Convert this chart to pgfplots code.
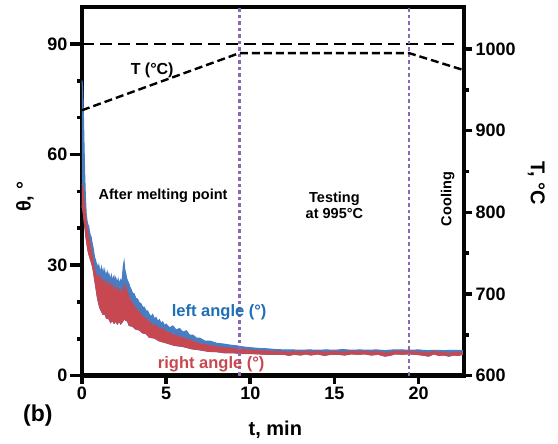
\documentclass[border=0pt]{standalone}
\usepackage{fontspec}
\setmainfont{Liberation Sans}
\usepackage{pgfplots}
\pgfplotsset{compat=1.18}
\definecolor{bl}{RGB}{72,125,195}
\definecolor{rd}{RGB}{200,72,82}
\definecolor{bltxt}{RGB}{30,110,185}
\definecolor{pur}{RGB}{135,105,180}
\definecolor{ink}{RGB}{5,5,5}
\begin{document}
\begin{tikzpicture}
\begin{axis}[
 at={(0,0)}, anchor=south west,
 scale only axis, width=382pt, height=368.7pt,
 xmin=0, xmax=22.7, ymin=0, ymax=100,
 axis line style={line width=4.5pt, draw=ink},
 xtick=\empty,
 ytick={0,30,60,90}, minor ytick={10,20,40,50,70,80},
 ytick pos=left, tick align=outside,
 major tick length=12pt, minor tick length=5pt,
 tick style={line width=3.6pt, draw=ink},
 yticklabel style={font=\bfseries\fontsize{18}{18}\selectfont, xshift=1pt},
 /pgf/number format/assume math mode=true,
 clip=false,
]
% blue band: left angle upper envelope, closed along the right-angle lower envelope
\addplot[fill=bl, draw=bl, line width=1pt] coordinates {
(0,80) (0.04,78) (0.08,72) (0.12,63) (0.16,55) (0.2,49) (0.25,44) (0.3,42) (0.35,41) (0.4,40.5)
(0.45,39) (0.5,38) (0.55,37.5) (0.6,36) (0.65,35) (0.7,33.5) (0.75,32) (0.8,31.5) (0.85,30.5) (0.9,30)
(0.95,29.0) (1.0,30.0) (1.05,28.6) (1.1,28.2) (1.15,29.4) (1.2,27.8) (1.25,28.8) (1.3,27.4) (1.35,28.6) (1.4,27.0)
(1.5,28.2) (1.55,26.6) (1.6,27.6) (1.7,26.0) (1.75,27.2) (1.8,25.8) (1.9,27.0) (1.95,25.4) (2.0,26.6) (2.1,25.2)
(2.15,26.2) (2.2,25.0) (2.3,26.0) (2.35,24.8) (2.4,26.8) (2.45,29.5) (2.5,31) (2.55,28.6) (2.6,27.8) (2.65,26.5)
(2.7,25.8) (2.8,24.8) (2.85,24.0) (2.9,23.6) (3.0,22.4) (3.1,22.2) (3.2,21.0) (3.3,20.8) (3.4,19.8) (3.5,19.6)
(3.6,18.6) (3.7,18.6) (3.8,17.6) (3.9,17.6) (4.0,16.6) (4.1,16.0) (4.2,16.6) (4.3,15.4) (4.4,15.8) (4.5,14.8)
(4.6,15.2) (4.7,14.2) (4.8,14.6) (4.9,13.6) (5.0,14.0) (5.2,13.0) (5.4,13.5) (5.6,12.4) (5.8,12.8) (6.0,11.8)
(6.2,12.2) (6.4,11.0) (6.6,11.0) (6.8,10.2) (7.0,10.2) (7.3,9.4) (7.6,9.4) (8.0,8.8) (8.4,8.6) (8.8,8.3)
(9.2,8.1) (9.6,7.8) (10,7.6) (10.5,7.4) (11,7.3) (11.5,7.1) (12,7.0) (12.5,7.0) (13,6.9) (13.5,7.0)
(14,6.9) (14.5,7.0) (15,6.9) (15.5,7.1) (16,6.9) (16.5,7.0) (17,6.9) (17.5,7.0) (18,6.8) (18.5,7.0)
(19,7.0) (19.5,6.9) (20,7.0) (20.5,6.8) (21,6.9) (21.5,6.8) (22,6.9) (22.6,6.9)
(22.6,5.8) (22.4,5.5) (22.1,5.6) (21.8,5.3) (21.5,5.6) (21.2,5.5) (20.9,5.9) (20.6,5.3) (20.2,5.6) (19.8,5.8)
(19.4,5.9) (19,5.8) (18.6,5.9) (18.3,5.5) (18,5.3) (17.6,5.8) (17.2,5.6) (16.8,5.9) (16.4,5.8) (16,5.9)
(15.6,5.6) (15.2,5.8) (14.8,5.8) (14.4,5.5) (14,5.9) (13.6,5.6) (13.3,5.9) (13,5.6) (12.6,5.8) (12.3,5.5)
(12,5.8) (11,5.8) (10,6.0) (9.5,6.0) (9.0,6.2) (8.5,6.2) (8.0,6.5) (7.5,6.6) (7.0,7.0) (6.5,7.3)
(6.0,7.9) (5.5,8.2) (5.0,8.9) (4.6,9.4) (4.3,10.2) (4.0,10.4) (3.8,11.4) (3.6,11.6) (3.4,12.4) (3.2,12.6)
(3.0,13.4) (2.8,13.6) (2.7,14.8) (2.6,15.0) (2.5,15.4) (2.4,14.6) (2.3,14.0) (2.2,14.8) (2.1,14.0) (2.0,14.8)
(1.9,14.2) (1.8,15.0) (1.7,14.4) (1.6,15.4) (1.45,15.6) (1.35,16.8) (1.25,16.6) (1.15,17.5) (1.05,18.5) (0.97,20)
(0.9,21.5) (0.82,24) (0.75,26) (0.67,28.5) (0.6,30) (0.5,31.5) (0.4,33) (0.35,34) (0.3,35.5) (0.25,37)
(0.2,39) (0.15,41) (0.1,43) (0.05,45) (0,46)};
% red band: right angle upper and lower envelopes
\addplot[fill=rd, draw=rd, line width=0.8pt] coordinates {
(0,52) (0.04,51.5) (0.08,50) (0.12,48) (0.16,46) (0.2,44) (0.25,42) (0.3,40) (0.35,39) (0.4,37.5)
(0.45,36.5) (0.5,35.5) (0.55,34) (0.6,33) (0.65,31.5) (0.7,30) (0.75,29) (0.8,28) (0.85,27.5) (0.9,26.6)
(0.95,27.2) (1.0,25.6) (1.05,26.8) (1.1,25.0) (1.15,26.4) (1.2,24.6) (1.3,26.0) (1.35,24.2) (1.4,25.6) (1.5,23.8)
(1.55,25.4) (1.6,23.4) (1.7,25.0) (1.75,23.0) (1.8,24.6) (1.9,22.6) (1.95,24.2) (2.0,22.4) (2.1,23.8) (2.15,22.0)
(2.2,23.4) (2.3,21.8) (2.35,23.2) (2.4,22.2) (2.5,24.6) (2.55,23.4) (2.6,24.2) (2.7,22.4) (2.8,21.4) (2.9,20.0)
(3.0,20.0) (3.1,18.6) (3.2,18.6) (3.3,17.4) (3.4,17.4) (3.5,16.4) (3.6,16.4) (3.7,15.4) (3.8,15.6) (3.9,14.6)
(4.0,14.8) (4.2,13.6) (4.4,13.8) (4.6,12.6) (4.8,12.8) (5.0,11.8) (5.2,11.8) (5.4,11.0) (5.6,11.0) (5.8,10.4)
(6.0,10.4) (6.2,9.8) (6.4,9.8) (6.6,9.2) (6.8,9.2) (7.0,8.6) (7.3,8.5) (7.6,8.1) (8.0,7.9) (8.4,7.6)
(8.8,7.5) (9.2,7.2) (9.6,7.1) (10,6.9) (10.5,6.8) (11,6.7) (11.5,6.6) (12,6.5) (12.3,6.3) (12.6,6.6)
(13,6.4) (13.3,6.7) (13.6,6.4) (14,6.7) (14.4,6.3) (14.8,6.6) (15.2,6.5) (15.6,6.4) (16,6.7) (16.4,6.5)
(16.8,6.7) (17.2,6.4) (17.6,6.6) (18,6.1) (18.3,6.3) (18.6,6.7) (19,6.5) (19.4,6.7) (19.8,6.5) (20.2,6.4)
(20.6,6.1) (20.9,6.7) (21.2,6.3) (21.5,6.4) (21.8,6.0) (22.1,6.4) (22.4,6.3) (22.6,6.5)
(22.6,5.8) (22.4,5.5) (22.1,5.6) (21.8,5.3) (21.5,5.6) (21.2,5.5) (20.9,5.9) (20.6,5.3) (20.2,5.6) (19.8,5.8)
(19.4,5.9) (19,5.8) (18.6,5.9) (18.3,5.5) (18,5.3) (17.6,5.8) (17.2,5.6) (16.8,5.9) (16.4,5.8) (16,5.9)
(15.6,5.6) (15.2,5.8) (14.8,5.8) (14.4,5.5) (14,5.9) (13.6,5.6) (13.3,5.9) (13,5.6) (12.6,5.8) (12.3,5.5)
(12,5.8) (11,5.8) (10,6.0) (9.5,6.0) (9.0,6.2) (8.5,6.2) (8.0,6.5) (7.5,6.6) (7.0,7.0) (6.5,7.3)
(6.0,7.9) (5.5,8.2) (5.0,8.9) (4.6,9.4) (4.3,10.2) (4.0,10.4) (3.8,11.4) (3.6,11.6) (3.4,12.4) (3.2,12.6)
(3.0,13.4) (2.8,13.6) (2.7,14.8) (2.6,15.0) (2.5,15.4) (2.4,14.6) (2.3,14.0) (2.2,14.8) (2.1,14.0) (2.0,14.8)
(1.9,14.2) (1.8,15.0) (1.7,14.4) (1.6,15.4) (1.45,15.6) (1.35,16.8) (1.25,16.6) (1.15,17.5) (1.05,18.5) (0.97,20)
(0.9,21.5) (0.82,24) (0.75,26) (0.67,28.5) (0.6,30) (0.5,31.5) (0.4,33) (0.35,34) (0.3,35.5) (0.25,37)
(0.2,39) (0.15,41) (0.1,43) (0.05,45) (0,46)};
% horizontal dashed line and vertical dotted lines
\addplot[black, line width=2.4pt, dash pattern=on 12pt off 6pt] coordinates {(0,90) (22.4,90)};
\addplot[pur, line width=2.2pt, dash pattern=on 3.5pt off 3pt] coordinates {(9.36,0) (9.36,100)};
\addplot[pur, line width=2.2pt, dash pattern=on 3.5pt off 3pt] coordinates {(19.43,0) (19.43,100)};
% annotations
\node[font=\bfseries\fontsize{16}{16}\selectfont] at (axis cs:4.17,82.9) {T (°C)};
\node[font=\bfseries\fontsize{14.5}{14.5}\selectfont] at (axis cs:4.82,48.7) {After melting point};
\node[font=\bfseries\fontsize{14.5}{16}\selectfont, align=center] at (axis cs:15.0,46.3) {Testing\\at 995°C};
\node[font=\bfseries\fontsize{14.5}{14.5}\selectfont, rotate=90] at (axis cs:21.73,47.9) {Cooling};
\node[text=bltxt, font=\bfseries\fontsize{16.5}{16.5}\selectfont] at (axis cs:8.15,17.3) {left angle (°)};
\node[text=rd, font=\bfseries\fontsize{16.5}{16.5}\selectfont] at (axis cs:7.68,3.17) {right angle (°)};
\node[font=\bfseries\fontsize{20}{20}\selectfont, rotate=90] at (axis cs:-3.39,48.5) {θ, °};
\node[font=\bfseries\fontsize{20}{20}\selectfont, rotate=-90] at (axis cs:27.0,52.2) {T, °C};
\node[font=\bfseries\fontsize{20}{20}\selectfont] at (axis cs:11.49,-14.8) {t, min};
\node[font=\bfseries\fontsize{23}{23}\selectfont] at (axis cs:-2.62,-10.9) {(b)};
\end{axis}
\begin{axis}[
 at={(0,0)}, anchor=south west,
 scale only axis, width=382pt, height=368.7pt,
 xmin=0, xmax=22.7, ymin=600, ymax=1051.4,
 axis line style={draw=none},
 xtick={0,5,10,15,20}, xtick pos=bottom,
 ytick={600,700,800,900,1000}, minor ytick={650,750,850,950}, ytick pos=right,
 tick align=outside, major tick length=8pt, minor tick length=5pt,
 tick style={line width=3.6pt, draw=ink},
 ticklabel style={font=\bfseries\fontsize{18}{18}\selectfont},
 /pgf/number format/assume math mode=true,
 /pgf/number format/1000 sep={},
]
\addplot[black, line width=2.4pt, dash pattern=on 8pt off 4pt] coordinates {(0,925) (9.36,995) (19.43,995) (22.7,974)};
\end{axis}
\pgfresetboundingbox
\useasboundingbox (-82pt,-68.3pt) rectangle (476pt,375.7pt);
\end{tikzpicture}
\end{document}
